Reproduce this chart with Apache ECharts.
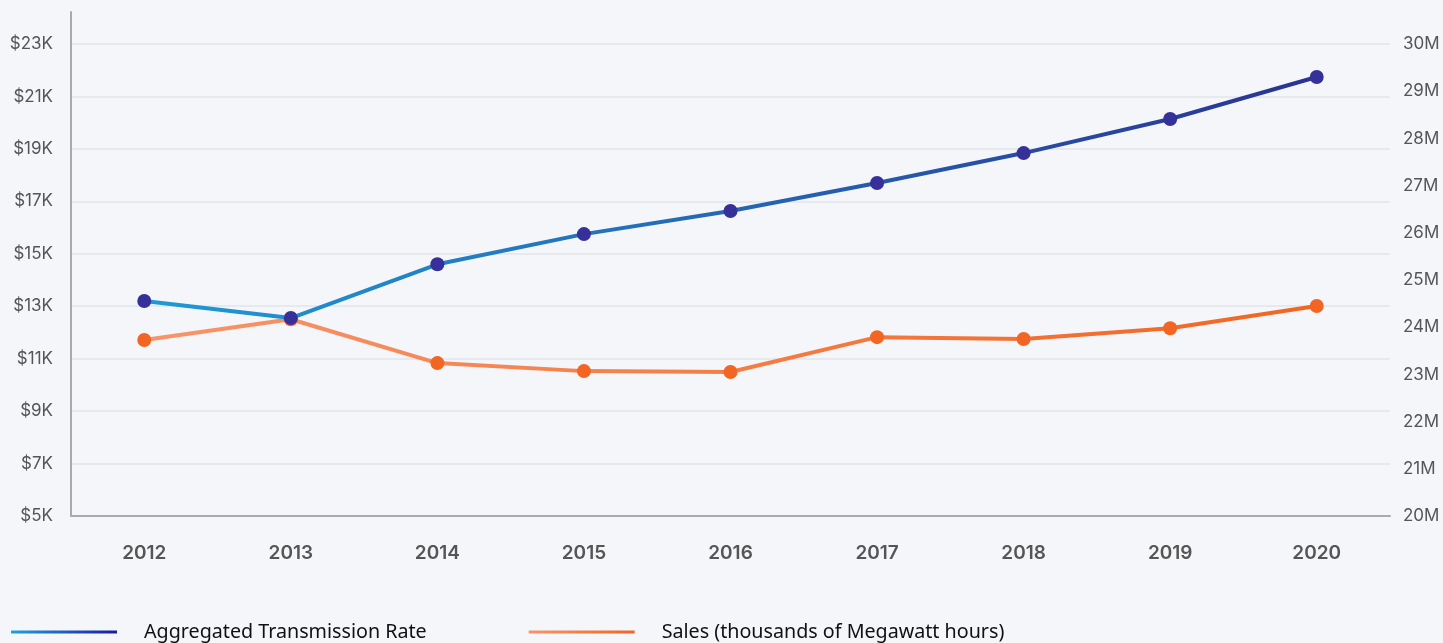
<!DOCTYPE html>
<html><head><meta charset="utf-8">
<script src="https://cdn.jsdelivr.net/npm/echarts@6/dist/echarts.min.js"></script>
<style>html,body{margin:0;padding:0;background:#f4f6fa;}#c{width:1443px;height:643px;}</style>
</head><body><div id="c"></div>
<script>
const years = ['2012','2013','2014','2015','2016','2017','2018','2019','2020'];
const rate = [13200, 12550, 14600, 15750, 16630, 17700, 18840, 20140, 21740];
const sales = [23.73, 24.17, 23.24, 23.07, 23.05, 23.79, 23.75, 23.98, 24.45];
const names = ['Aggregated Transmission Rate', 'Sales (thousands of Megawatt hours)'];

const mkBlue = () => new echarts.graphic.LinearGradient(0,0,1,0,[{offset:0,color:'#1f9ad6'},{offset:1,color:'#2a3391'}]);
const mkOrange = () => new echarts.graphic.LinearGradient(0,0,1,0,[{offset:0,color:'#f7956a'},{offset:1,color:'#f26522'}]);
const mkBlueLeg = () => new echarts.graphic.LinearGradient(0,0,1,0,[{offset:0,color:'#22a0dc'},{offset:1,color:'#1a1aa8'}]);

const chart = echarts.init(document.getElementById('c'));
chart.setOption({
  backgroundColor: '#f4f6fa',
  animation: false,
  grid: {left: 71, right: 53, top: 12, bottom: 127},
  legend: {
    left: 6, top: 617, itemWidth: 106, itemHeight: 14, itemGap: 102,
    icon: 'path://M0,6L100,6L100,9L0,9Z',
    data: [
      {name: names[0], itemStyle: {color: mkBlueLeg()}},
      {name: names[1], itemStyle: {color: mkOrange()}}
    ],
    textStyle: {fontFamily: 'Noto Sans', fontSize: 19.7, color: '#111', padding: [0,0,0,22]}
  },
  xAxis: {
    type: 'category', data: years, boundaryGap: true,
    axisLine: {lineStyle: {color: '#aaaaaa', width: 2}},
    axisTick: {show: false},
    axisLabel: {margin: 28, color: '#555', fontSize: 19, fontWeight: 600, fontFamily: 'Inter'}
  },
  yAxis: [{
    type: 'value', min: 5000, max: 24220, interval: 2000,
    axisLine: {show: true, lineStyle: {color: '#aaaaaa', width: 2}},
    axisTick: {show: false},
    splitLine: {showMaxLine: false, lineStyle: {color: '#e2e4e9', width: 1.5}},
    axisLabel: {margin: 18, color: '#555', fontSize: 17, fontFamily: 'Inter',
      formatter: v => (v - 5000) % 2000 === 0 ? '$' + (v/1000) + 'K' : ''}
  }, {
    type: 'value', min: 20, max: 30.68, interval: 1,
    axisLine: {show: false}, axisTick: {show: false}, splitLine: {show: false},
    axisLabel: {margin: 13, color: '#555', fontSize: 17, fontFamily: 'Inter',
      formatter: v => Math.abs(v - Math.round(v)) < 1e-6 ? Math.round(v) + 'M' : ''}
  }],
  series: [{
    name: names[1], type: 'line', yAxisIndex: 1, data: sales,
    symbol: 'circle', symbolSize: 14, z: 2,
    lineStyle: {width: 4, color: mkOrange()},
    itemStyle: {color: '#f26522'}
  }, {
    name: names[0], type: 'line', yAxisIndex: 0, data: rate,
    symbol: 'circle', symbolSize: 14, z: 3,
    lineStyle: {width: 4, color: mkBlue()},
    itemStyle: {color: '#35309a'}
  }]
});
</script></body></html>
